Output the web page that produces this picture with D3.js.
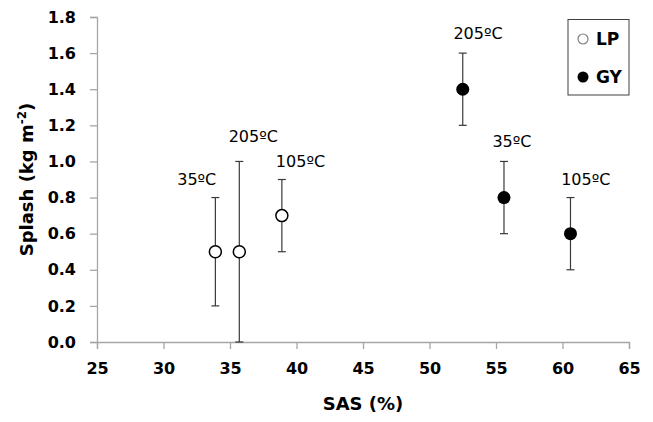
<!DOCTYPE html>
<html>
<head>
<meta charset="utf-8">
<script src="https://cdn.jsdelivr.net/npm/d3@7"></script>
<style>
  body { margin: 0; background: #fff; }
  text { font-family: "DejaVu Sans", sans-serif; }
</style>
</head>
<body>
<div id="chart"></div>
<script>
// series: LP (open) and GY (filled)
const lpSAS    = [33.9, 35.7, 38.9];
const lpSplash = [0.5, 0.5, 0.7];
const lpLow    = [0.2, 0.0, 0.5];
const lpHigh   = [0.8, 1.0, 0.9];
const lpLabels = ["35ºC", "205ºC", "105ºC"];
const lpLabelAt = [[32.5, 0.87], [36.75, 1.11], [40.3, 0.97]];

const gySAS    = [52.5, 55.6, 60.6];
const gySplash = [1.4, 0.8, 0.6];
const gyLow    = [1.2, 0.6, 0.4];
const gyHigh   = [1.6, 1.0, 0.8];
const gyLabels = ["205ºC", "35ºC", "105ºC"];
const gyLabelAt = [[53.65, 1.68], [56.2, 1.08], [61.75, 0.87]];

const xTicks = [25, 30, 35, 40, 45, 50, 55, 60, 65];
const yTicks = [0, 0.2, 0.4, 0.6, 0.8, 1.0, 1.2, 1.4, 1.6, 1.8];

const W = 653, H = 422;
const margin = {top: 17, right: 24, bottom: 80, left: 97};

const svg = d3.select("#chart").append("svg")
    .attr("width", W)
    .attr("height", H);

const x = d3.scaleLinear().domain([25, 65]).range([margin.left, W - margin.right]);
const y = d3.scaleLinear().domain([0, 1.8]).range([H - margin.bottom, margin.top]);

const axisColor = "#a6a6a6";

const gx = svg.append("g")
    .attr("transform", `translate(0,${H - margin.bottom})`)
    .call(d3.axisBottom(x).tickValues(xTicks).tickSize(7).tickPadding(14).tickFormat(d3.format("d")));
const gy = svg.append("g")
    .attr("transform", `translate(${margin.left},0)`)
    .call(d3.axisLeft(y).tickValues(yTicks).tickSize(7).tickPadding(14).tickFormat(d3.format(".1f")));

[gx, gy].forEach(g => {
  g.select(".domain").attr("stroke", axisColor).attr("stroke-width", 1.3);
  g.selectAll(".tick line").attr("stroke", axisColor).attr("stroke-width", 1.3);
  g.selectAll(".tick text")
    .attr("fill", "#000")
    .style("font-size", "16px")
    .style("font-weight", "bold")
    .style("font-family", "DejaVu Sans");
});

// axis titles
svg.append("text")
    .attr("x", x(45)).attr("y", 410)
    .attr("text-anchor", "middle")
    .style("font-size", "18px").style("font-weight", "bold")
    .text("SAS (%)");

const yt = svg.append("text")
    .attr("transform", `translate(33,${y(0.9)}) rotate(-90)`)
    .attr("text-anchor", "middle")
    .style("font-size", "18px").style("font-weight", "bold");
yt.append("tspan").text("Splash (kg m");
yt.append("tspan").attr("dy", -7).style("font-size", "12px").text("-2");
yt.append("tspan").attr("dy", 7).text(")");

const barColor = "#3a3a3a";

function drawSeries(sas, val, lo, hi, labels, labelAt, filled) {
  const idx = d3.range(sas.length);
  const g = svg.append("g");
  // error bars
  g.selectAll("line.v").data(idx).join("line")
    .attr("x1", i => x(sas[i])).attr("x2", i => x(sas[i]))
    .attr("y1", i => y(lo[i])).attr("y2", i => y(hi[i]))
    .attr("stroke", barColor).attr("stroke-width", 1.2);
  [lo, hi].forEach(arr => {
    g.selectAll(null).data(idx).join("line")
      .attr("x1", i => x(sas[i]) - 4).attr("x2", i => x(sas[i]) + 4)
      .attr("y1", i => y(arr[i])).attr("y2", i => y(arr[i]))
      .attr("stroke", barColor).attr("stroke-width", 1.2);
  });
  g.selectAll("circle").data(idx).join("circle")
    .attr("cx", i => x(sas[i])).attr("cy", i => y(val[i]))
    .attr("r", filled ? 6.5 : 6)
    .attr("fill", filled ? "#000" : "#fff")
    .attr("stroke", "#000").attr("stroke-width", filled ? 0 : 1.5);
  g.selectAll("text").data(idx).join("text")
    .attr("x", i => x(labelAt[i][0])).attr("y", i => y(labelAt[i][1]))
    .attr("text-anchor", "middle")
    .style("font-size", "16px")
    .text(i => labels[i]);
}

drawSeries(lpSAS, lpSplash, lpLow, lpHigh, lpLabels, lpLabelAt, false);
drawSeries(gySAS, gySplash, gyLow, gyHigh, gyLabels, gyLabelAt, true);

// legend
const leg = svg.append("g").attr("transform", "translate(568,19.5)");
leg.append("rect")
    .attr("width", 61).attr("height", 75.5)
    .attr("fill", "#fff").attr("stroke", "#404040").attr("stroke-width", 1);
const legItems = [["LP", false], ["GY", true]];
legItems.forEach(([name, filled], i) => {
  const cy = 19.5 + i * 38;
  leg.append("circle")
    .attr("cx", 15).attr("cy", cy).attr("r", filled ? 5.5 : 5)
    .attr("fill", filled ? "#000" : "#fff")
    .attr("stroke", filled ? "none" : "#808080").attr("stroke-width", 1.2);
  leg.append("text")
    .attr("x", 28).attr("y", cy).attr("dy", "0.36em")
    .style("font-size", "17px").style("font-weight", "bold")
    .text(name);
});
</script>
</body>
</html>
